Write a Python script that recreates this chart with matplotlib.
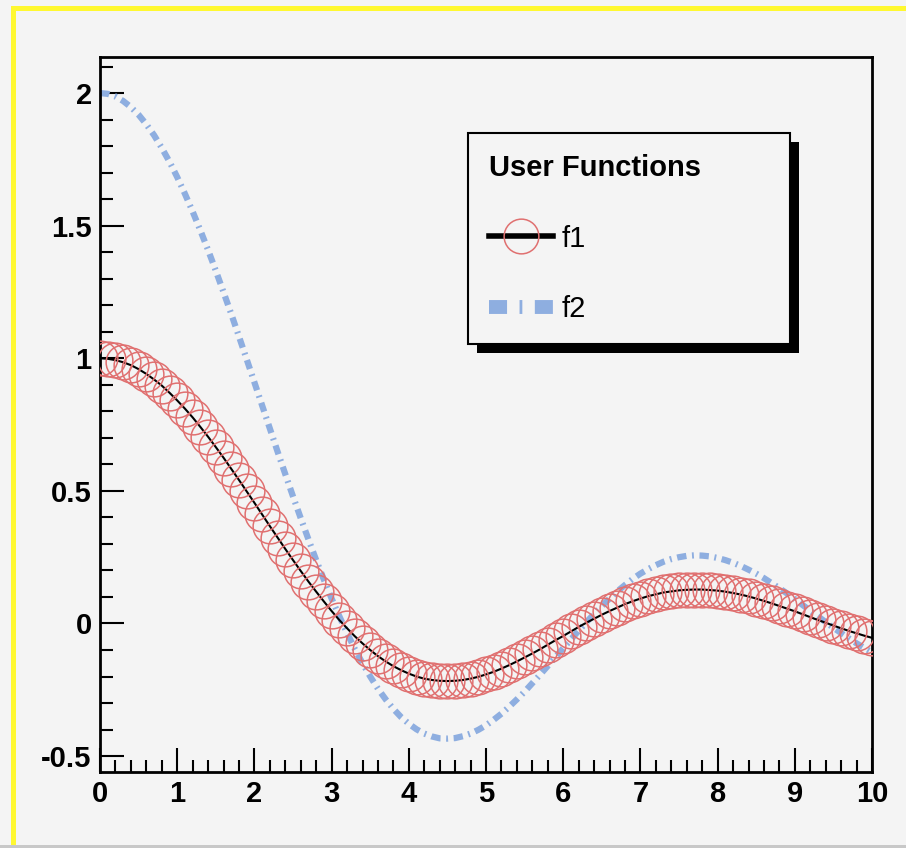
import matplotlib.pyplot as plt
from matplotlib.lines import Line2D
from matplotlib.patches import Rectangle
from matplotlib.ticker import MultipleLocator
from matplotlib.transforms import IdentityTransform

# x grid (100 steps over 0..10) and the two curves
x = [i / 10 for i in range(101)]
f1 = [1.000, 0.998, 0.993, 0.985, 0.974, 0.959, 0.941, 0.920, 0.897, 0.870,
      0.841, 0.810, 0.777, 0.741, 0.704, 0.665, 0.625, 0.583, 0.541, 0.498,
      0.455, 0.411, 0.367, 0.324, 0.281, 0.239, 0.198, 0.158, 0.120, 0.083,
      0.047, 0.013, -0.018, -0.048, -0.075, -0.100, -0.123, -0.143, -0.161, -0.176,
      -0.189, -0.200, -0.208, -0.213, -0.216, -0.217, -0.216, -0.213, -0.208, -0.201,
      -0.192, -0.182, -0.170, -0.157, -0.143, -0.128, -0.113, -0.097, -0.080, -0.063,
      -0.047, -0.030, -0.013, 0.003, 0.018, 0.033, 0.047, 0.060, 0.073, 0.084,
      0.094, 0.103, 0.110, 0.117, 0.121, 0.125, 0.127, 0.128, 0.128, 0.126,
      0.124, 0.120, 0.115, 0.109, 0.102, 0.094, 0.085, 0.076, 0.066, 0.056,
      0.046, 0.035, 0.024, 0.013, 0.003, -0.008, -0.018, -0.028, -0.037, -0.046,
      -0.054]
f2 = [2.000, 1.997, 1.987, 1.970, 1.947, 1.918, 1.882, 1.841, 1.793, 1.741,
      1.683, 1.620, 1.553, 1.482, 1.408, 1.330, 1.249, 1.167, 1.082, 0.996,
      0.909, 0.822, 0.735, 0.648, 0.563, 0.479, 0.397, 0.317, 0.239, 0.165,
      0.094, 0.027, -0.036, -0.096, -0.150, -0.200, -0.246, -0.286, -0.322, -0.353,
      -0.378, -0.399, -0.415, -0.426, -0.433, -0.434, -0.432, -0.425, -0.415, -0.401,
      -0.384, -0.363, -0.340, -0.314, -0.286, -0.257, -0.225, -0.193, -0.160, -0.127,
      -0.093, -0.060, -0.027, 0.005, 0.036, 0.066, 0.094, 0.121, 0.145, 0.168,
      0.188, 0.205, 0.220, 0.233, 0.243, 0.250, 0.255, 0.257, 0.256, 0.253,
      0.247, 0.239, 0.229, 0.217, 0.203, 0.188, 0.171, 0.152, 0.133, 0.113,
      0.092, 0.070, 0.048, 0.027, 0.005, -0.016, -0.036, -0.056, -0.075, -0.092,
      -0.109]
labels = ["f1", "f2"]
legend_title = "User Functions"

BG = "#f4f4f4"
RED = "#e07070"
BLUE = "#8eaee0"
FONT = ["Liberation Sans Narrow", "Liberation Sans", "DejaVu Sans"]

plt.rcParams["font.family"] = FONT

fig = plt.figure(figsize=(9.06, 8.48), dpi=100, facecolor=BG)
ax = fig.add_axes([0.1104, 0.0896, 0.9625 - 0.1104, 0.9328 - 0.0896])
ax.set_facecolor(BG)

# yellow frame bits (top + left) and gray bottom line
fig.add_artist(Rectangle((11 / 906, 0), 5 / 906, 1 - 6 / 848, transform=fig.transFigure,
                         color="#fff830", lw=0, zorder=0))
fig.add_artist(Rectangle((11 / 906, 1 - 11 / 848), 1, 5 / 848, transform=fig.transFigure,
                         color="#fff830", lw=0, zorder=0))
fig.add_artist(Rectangle((0, 0), 1, 3 / 848, transform=fig.transFigure,
                         color="#c8c8c8", lw=0, zorder=0))

# curves
ax.plot(x, f2, color=BLUE, lw=4.5, dashes=(1.5, 0.9, 0.3, 0.9), zorder=2)
ax.plot(x, f1, color="black", lw=1.5, marker="o", ms=25, mfc="none", mec=RED,
        mew=1.1, zorder=3)

ax.set_xlim(0, 10)
ax.set_ylim(-0.56, 2.136)
ax.xaxis.set_major_locator(MultipleLocator(1))
ax.xaxis.set_minor_locator(MultipleLocator(0.2))
ax.yaxis.set_major_locator(MultipleLocator(0.5))
ax.yaxis.set_minor_locator(MultipleLocator(0.1))
ax.set_yticks([-0.5, 0, 0.5, 1, 1.5, 2])
ax.set_yticklabels(["-0.5", "0", "0.5", "1", "1.5", "2"])
ax.tick_params(which="both", direction="in", width=1.5, top=False, right=False)
ax.tick_params(which="major", length=17, labelsize=21, pad=6)
ax.tick_params(which="minor", length=9)
for lab in ax.get_xticklabels() + ax.get_yticklabels():
    lab.set_fontweight("bold")
for sp in ax.spines.values():
    sp.set_linewidth(2)

# legend with hard black shadow
h1 = Line2D([], [], color="black", lw=4, marker="o", ms=25, mfc="none", mec=RED, mew=1.1)
h2 = Line2D([], [], color=BLUE, lw=10, dashes=(1.3, 0.9, 0.2, 0.9))
leg = ax.legend([h1, h2], labels, title=legend_title, loc="upper left",
                bbox_to_anchor=(468 / 906, 1 - 345 / 848, 322 / 906, 212 / 848),
                bbox_transform=fig.transFigure, mode="expand",
                fontsize=21, title_fontproperties={"family": FONT, "weight": "bold", "size": 21},
                alignment="left", fancybox=False, edgecolor="black", facecolor=BG,
                framealpha=1, borderpad=0.72, labelspacing=1.46, handlelength=2.2,
                handletextpad=0.3, borderaxespad=0)
leg.get_frame().set_linewidth(1.5)
leg.set_zorder(6)

fig.canvas.draw()
bb = leg.get_window_extent()
shadow = Rectangle((bb.x0 + 9, bb.y0 - 9), bb.width, bb.height, transform=IdentityTransform(),
                   color="black", lw=0, zorder=5, clip_on=False)
ax.add_artist(shadow)

fig.savefig("out.png", dpi=100, facecolor=BG)
